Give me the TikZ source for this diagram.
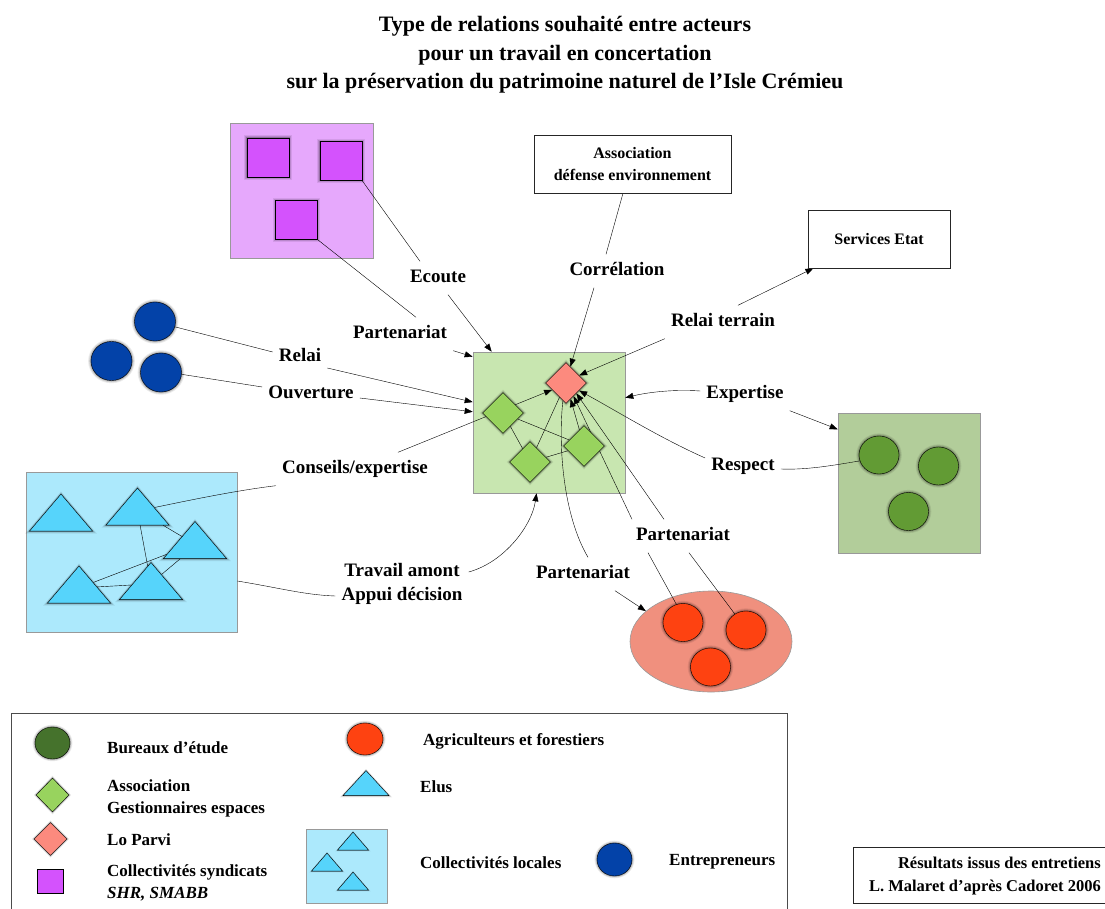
\documentclass[tikz,border=0pt]{standalone}
\usepackage{fontspec}
\setmainfont{Liberation Serif}
\usetikzlibrary{arrows.meta,shapes.geometric,shadows}
\definecolor{syndbox}{HTML}{E6A8FC}
\definecolor{syndsq}{HTML}{D452FD}
\definecolor{gestbox}{HTML}{C8E6B0}
\definecolor{gestdia}{HTML}{98D35E}
\definecolor{parvi}{HTML}{FC8A7E}
\definecolor{entre}{HTML}{0342A8}
\definecolor{collbox}{HTML}{ACE9FC}
\definecolor{elucol}{HTML}{56D4FB}
\definecolor{bureaubox}{HTML}{B2CD9A}
\definecolor{bureau}{HTML}{629B34}
\definecolor{bureaulg}{HTML}{45722C}
\definecolor{agribox}{HTML}{F0907E}
\definecolor{agri}{HTML}{FE4211}
\pgfdeclarelayer{boxes}
\pgfdeclarelayer{links}
\pgfsetlayers{boxes,links,main}
\begin{document}
\begin{tikzpicture}[x=1pt,y=-1pt,line width=0.8pt,
  lbl/.style={font=\bfseries\fontsize{19}{22}\selectfont,inner xsep=6pt,inner ysep=8pt,text height=13pt,text depth=4pt},
  lgd/.style={font=\bfseries\fontsize{17}{22}\selectfont,anchor=west,align=left,inner sep=0pt},
  glow/.style={general shadow={fill=black,opacity=.08,shadow scale=1.14},
    general shadow={fill=black,opacity=.12,shadow scale=1.09},
    general shadow={fill=black,opacity=.2,shadow scale=1.04}},
  grp/.style={draw=black!40,line width=0.6pt},
  txtbox/.style={draw=black!85,fill=white,font=\bfseries\fontsize{16}{22}\selectfont,align=center},
  carre/.style={draw,fill=syndsq,minimum width=42pt,minimum height=39pt,inner sep=0pt,glow},
  dia/.style={diamond,draw,fill=gestdia,minimum width=41pt,minimum height=41pt,inner sep=0pt,glow},
  rond/.style={ellipse,draw,minimum width=41pt,minimum height=39pt,inner sep=0pt,glow},
  elu/.style={isosceles triangle,isosceles triangle stretches,shape border rotate=90,draw,fill=elucol,
    minimum width=63pt,minimum height=37pt,inner sep=0pt,glow},
  arr/.style={-{Triangle[length=8pt,width=6pt]}}]
\useasboundingbox (0,0) rectangle (1105,909);

% title
\node[font=\bfseries\fontsize{22}{28.5}\selectfont,align=center] (title) at (565,55)
  {Type de relations souhaité entre acteurs\\pour un travail en concertation\\sur la préservation du patrimoine naturel de l’Isle Crémieu};

% group boxes
\begin{pgfonlayer}{boxes}
\node[grp,fill=syndbox,minimum width=143pt,minimum height=135pt] (pbox) at (301.5,190.5) {};
\node[grp,fill=gestbox,minimum width=152pt,minimum height=141pt] (gbox) at (549,422.5) {};
\node[grp,fill=collbox,minimum width=211pt,minimum height=160pt] (lbox) at (131.5,552) {};
\node[grp,fill=bureaubox,minimum width=142pt,minimum height=140pt] (bbox) at (909,483) {};
\node[grp,ellipse,fill=agribox,minimum width=162pt,minimum height=101pt] (ell) at (711,641.5) {};
\node[draw=black!70,minimum width=776pt,minimum height=215pt] (legend) at (399,820.5) {};
\node[draw=black!85,minimum width=262pt,minimum height=56pt] (note) at (984,875) {};
\end{pgfonlayer}

% actors
\node[carre] (sq1) at (268,157.5) {};
\node[carre] (sq2) at (341,161) {};
\node[carre] (sq3) at (296.5,220) {};
\node[rond,fill=entre] (c1) at (155,321.5) {};
\node[rond,fill=entre] (c2) at (111.5,361) {};
\node[rond,fill=entre] (c3) at (161,372.5) {};
\node[dia,fill=parvi] (lp) at (566,383) {};
\node[dia] (d1) at (503,413) {};
\node[dia] (d2) at (530,462) {};
\node[dia] (d3) at (584,446) {};
\node[elu] (t1) at (61,516.5) {};
\node[elu] (t2) at (137.5,510.5) {};
\node[elu] (t3) at (195,544) {};
\node[elu] (t4) at (79,588.5) {};
\node[elu] (t5) at (151,585) {};
\node[rond,fill=bureau,minimum width=40pt,minimum height=38pt] (e1) at (879,455) {};
\node[rond,fill=bureau,minimum width=40pt,minimum height=38pt] (e2) at (938.5,466) {};
\node[rond,fill=bureau,minimum width=40pt,minimum height=38pt] (e3) at (908.5,511.5) {};
\node[rond,fill=agri,minimum width=40pt,minimum height=38pt] (a1) at (683,622.5) {};
\node[rond,fill=agri,minimum width=40pt,minimum height=38pt] (a2) at (746,630) {};
\node[rond,fill=agri,minimum width=40pt,minimum height=38pt] (a3) at (710.5,667) {};
\node[txtbox,minimum width=197pt,minimum height=58pt] (assoc) at (632.5,164) {Association\\défense environnement};
\node[txtbox,minimum width=142pt,minimum height=58pt] (serv) at (879,239) {Services Etat};

% relation labels
\node[lbl] (ecoute) at (438,278) {Ecoute};
\node[lbl] (p1) at (400,334) {Partenariat};
\node[lbl] (relai) at (300,357) {Relai};
\node[lbl] (ouv) at (311,394) {Ouverture};
\node[lbl] (cons) at (355,469) {Conseils/expertise};
\node[font=\bfseries\fontsize{19}{24.5}\selectfont,align=center,inner xsep=6pt,inner ysep=4pt] (trav) at (402,584) {Travail amont\\Appui décision};
\node[lbl] (corr) at (617,271) {Corrélation};
\node[lbl] (rt) at (723,322) {Relai terrain};
\node[lbl] (exp) at (745,394) {Expertise};
\node[lbl] (resp) at (743,466) {Respect};
\node[lbl] (p2) at (683,536) {Partenariat};
\node[lbl] (p3) at (583,574) {Partenariat};

\begin{pgfonlayer}{links}
\draw (sq2.south east) -- ([xshift=-18pt]ecoute.north);
\draw[arr] ([xshift=10pt]ecoute.south) -- (gbox.129);
\draw (sq3.south east) -- ([xshift=16pt]p1.north);
\draw[arr] (p1.south east) -- ([yshift=-5pt]gbox.north west);
\draw (c1.-15) -- ([yshift=5pt]relai.west);
\draw[arr] ([yshift=-11pt]relai.east) -- (gbox.165);
\draw (c3.-5) -- ([yshift=7pt]ouv.west);
\draw[arr] ([yshift=-4pt]ouv.east) -- (gbox.172);
\draw (t2.10) .. controls (200,498) and (240,490) .. (cons.south west);
\draw[arr] ([xshift=43pt]cons.north) -- (lp.206);
\draw ([yshift=-29pt]lbox.east) .. controls (280,588) and (305,595) .. ([yshift=-12pt]trav.west);
\draw[arr] ([yshift=12pt]trav.east) .. controls (505,562) and (532,525) .. (gbox.260);
\draw (assoc.252) -- ([xshift=-11pt]corr.north);
\draw[arr] ([xshift=-23pt]corr.south) -- (lp.75);
\draw[arr] ([xshift=15pt]rt.north) -- (serv.204);
\draw[arr] (rt.south west) -- (lp.30);
\draw[arr] ([yshift=3pt]exp.west) .. controls (670,389) and (645,393) .. (gbox.18);
\draw[arr] (exp.south east) -- (bbox.143);
\draw (e1.197) .. controls (830,466) and (805,470) .. ([yshift=-3pt]resp.east);
\draw[arr] ([yshift=8pt]resp.west) .. controls (660,438) and (615,410) .. (lp.-30);
\draw[arr] ([xshift=-51pt]p2.north) -- (lp.-60);
\draw[arr] ([xshift=-19pt]p2.north) -- (lp.-45);
\draw ([xshift=-35pt]p2.south) -- (a1.110);
\draw ([xshift=6pt]p2.south) -- (a2.125);
\draw (lp.260) .. controls (558,445) and (563,515) .. ([xshift=5pt]p3.north);
\draw[arr] ([xshift=32pt]p3.south) -- (ell.155);
% inside the groups
\draw (d1) -- (d2);
\draw (d1) -- (d3);
\draw (d2) -- (d3);
\draw (d2) -- (lp);
\draw[arr] (d3) -- (lp);
\draw (t2.-80) -- (t5.100);
\draw (t2.-30) -- (t3.150);
\draw (t4.23) -- (t3.200);
\draw (t4.5) -- (t5.180);
\draw (t5.45) -- (t3.225);
\end{pgfonlayer}

% legend
\node[rond,fill=bureaulg,minimum width=35pt,minimum height=32pt] (lg1) at (52.5,743) {};
\node[lgd] at (107,748) {Bureaux d’étude};
\node[dia,minimum width=33pt,minimum height=34pt] (lg2) at (52.5,795) {};
\node[lgd] at (107,798) {Association\\Gestionnaires espaces};
\node[dia,fill=parvi,minimum width=33pt,minimum height=33pt] (lg3) at (50.5,839) {};
\node[lgd] at (107,840) {Lo Parvi};
\node[draw,fill=syndsq,minimum width=26pt,minimum height=24pt,inner sep=0pt] (lg4) at (50,881) {};
\node[lgd] at (107,883) {Collectivités syndicats\\\textit{SHR, SMABB}};
\node[rond,fill=agri,minimum width=36pt,minimum height=32pt] (lg5) at (365,739) {};
\node[lgd] at (423,741) {Agriculteurs et forestiers};
\node[elu,minimum width=46pt,minimum height=25pt] (lg6) at (366,785.5) {};
\node[lgd] at (420,787) {Elus};
\node[grp,fill=collbox,minimum width=81pt,minimum height=74pt] (lg7) at (346.5,866) {};
\node[elu,minimum width=31pt,minimum height=18pt] at (353,843) {};
\node[elu,minimum width=31pt,minimum height=18pt] at (327,864) {};
\node[elu,minimum width=31pt,minimum height=18pt] at (353,883) {};
\node[lgd] at (420,863) {Collectivités locales};
\node[rond,fill=entre,minimum width=35pt,minimum height=33pt] (lg8) at (614.5,859.5) {};
\node[lgd] at (669,862) {Entrepreneurs};
\node[font=\bfseries\fontsize{16.5}{23}\selectfont,align=right,anchor=east,inner sep=0pt] (source) at (1101,876.5)
  {Résultats issus des entretiens\\L. Malaret d’après Cadoret 2006};
\end{tikzpicture}
\end{document}
